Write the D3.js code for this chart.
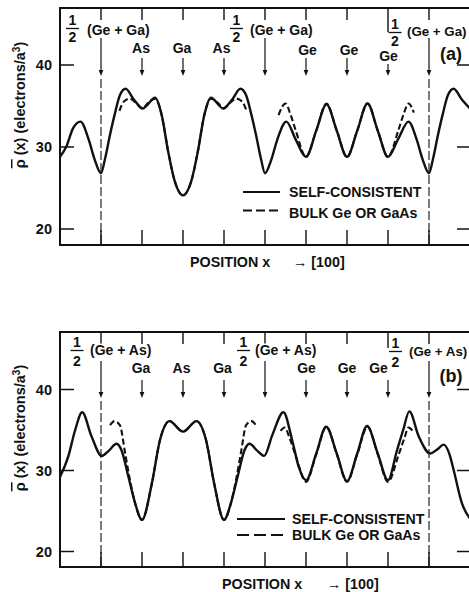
<!DOCTYPE html>
<html>
<head>
<meta charset="utf-8">
<script src="https://cdn.jsdelivr.net/npm/d3@7"></script>
<style>
  body { margin: 0; background: #fff; }
  text { font-family: "Liberation Sans", Arial, sans-serif; font-weight: bold; fill: #111; }
</style>
</head>
<body>
<div id="chart"></div>
<script>
// atomic planes along [100] (one supercell), frame runs from -1 to 9
var planes = [0, 1, 2, 3, 4, 5, 6, 7, 8];
var yTicks = [20, 30, 40];

var topSites = ["half", "As", "Ga", "As", "half", "Ge", "Ge", "Ge", "half"];
var bottomSites = ["half", "Ga", "As", "Ga", "half", "Ge", "Ge", "Ge", "half"];
var topHalfText = "(Ge + Ga)";
var bottomHalfText = "(Ge + As)";
var legendNames = ["SELF-CONSISTENT", "BULK Ge OR GaAs"];

// (a) self-consistent, [position, rho]
var topSelf = [
  [-1.0, 28.8], [-0.85, 30.0], [-0.68, 32.3], [-0.5, 33.1], [-0.3, 30.9], [-0.15, 28.4],
  [0.0, 26.8], [0.1, 28.6], [0.22, 31.5], [0.34, 34.1], [0.46, 36.3], [0.6, 37.1],
  [0.8, 35.8], [1.02, 34.7], [1.32, 36.0], [1.48, 33.9], [1.64, 29.4], [1.8, 25.8],
  [2.0, 24.1], [2.2, 25.8], [2.36, 29.4], [2.52, 33.9], [2.68, 36.0], [2.98, 34.7],
  [3.2, 35.8], [3.4, 37.1], [3.54, 36.3], [3.66, 34.1], [3.78, 31.5], [3.9, 28.6],
  [4.0, 26.8], [4.15, 28.4], [4.3, 30.9], [4.52, 33.1], [4.75, 30.9], [5.0, 28.8],
  [5.25, 32.0], [5.5, 35.2], [5.75, 32.0], [6.0, 28.8], [6.25, 32.0], [6.5, 35.3],
  [6.75, 32.0], [7.0, 28.8], [7.25, 31.0], [7.5, 33.1], [7.7, 30.9], [7.85, 28.4],
  [8.0, 26.8], [8.1, 28.6], [8.22, 31.5], [8.34, 34.1], [8.46, 36.3], [8.6, 37.1],
  [8.8, 35.8], [9.0, 34.7]
];
// (a) bulk, GaAs part and Ge part
var topBulkGaAs = [
  [0.45, 34.4], [0.55, 35.5], [0.7, 35.9], [0.85, 35.4], [1.0, 34.7], [1.15, 35.4],
  [1.32, 35.9], [1.48, 33.9], [1.64, 29.4], [1.8, 25.8], [2.0, 24.1], [2.2, 25.8],
  [2.36, 29.4], [2.52, 33.9], [2.68, 35.9], [2.85, 35.4], [3.0, 34.7], [3.15, 35.4],
  [3.3, 35.9], [3.45, 35.5], [3.55, 34.4]
];
var topBulkGe = [
  [4.33, 33.9], [4.5, 35.3], [4.62, 34.0], [4.75, 32.0], [5.0, 28.8], [5.25, 32.0],
  [5.5, 35.3], [5.75, 32.0], [6.0, 28.8], [6.25, 32.0], [6.5, 35.3], [6.75, 32.0],
  [7.0, 28.8], [7.25, 32.0], [7.38, 34.0], [7.5, 35.3], [7.63, 34.2]
];

// (b) self-consistent
var bottomSelf = [
  [-1.0, 29.2], [-0.8, 31.7], [-0.63, 35.0], [-0.46, 37.2], [-0.23, 34.2], [0.02, 31.8],
  [0.18, 32.4], [0.38, 33.3], [0.5, 32.5], [0.67, 29.2], [0.83, 26.0], [1.0, 23.9],
  [1.24, 28.4], [1.44, 33.8], [1.67, 36.1], [2.0, 34.8], [2.33, 36.1], [2.56, 33.8],
  [2.76, 28.4], [3.0, 23.9], [3.17, 26.0], [3.33, 29.2], [3.5, 32.5], [3.62, 33.3],
  [3.82, 32.4], [3.98, 31.8], [4.18, 34.4], [4.45, 37.2], [4.66, 33.8], [4.82, 30.5],
  [5.0, 28.8], [5.25, 32.1], [5.49, 35.4], [5.75, 32.1], [6.0, 28.7], [6.25, 32.1],
  [6.49, 35.5], [6.75, 32.1], [7.0, 28.8], [7.22, 32.5], [7.37, 35.0], [7.52, 37.3],
  [7.75, 34.2], [8.03, 32.1], [8.2, 32.6], [8.36, 33.2], [8.5, 32.0], [8.6, 30.1],
  [8.8, 26.0], [8.97, 24.3], [9.05, 23.9]
];
var bottomBulkGaAs = [
  [0.22, 35.6], [0.33, 36.1], [0.46, 35.6], [0.59, 32.1], [0.7, 29.0], [0.83, 26.0],
  [1.0, 23.9], [1.24, 28.4], [1.44, 33.8], [1.67, 36.1], [2.0, 34.8], [2.33, 36.1],
  [2.56, 33.8], [2.76, 28.4], [3.0, 23.9], [3.17, 26.0], [3.3, 29.0], [3.41, 32.1],
  [3.54, 35.6], [3.67, 36.1], [3.78, 35.6]
];
var bottomBulkGe = [
  [4.38, 34.9], [4.48, 35.3], [4.6, 34.0], [4.75, 31.8], [5.0, 28.6], [5.25, 32.0],
  [5.5, 35.4], [5.75, 32.0], [6.0, 28.6], [6.25, 32.0], [6.5, 35.4], [6.75, 32.0],
  [7.0, 28.6], [7.25, 31.8], [7.4, 34.0], [7.5, 35.3], [7.6, 34.9]
];

var W = 469, H = 592;

var svg = d3.select("#chart").append("svg")
    .attr("width", W)
    .attr("height", H);

var x = d3.scaleLinear().domain([-1, 9]).range([60, 470]);

var line = d3.line()
    .curve(d3.curveMonotoneX)
    .x(function(d) { return x(d[0]); });

// layout for each panel (pixels)
var panels = [
  {
    id: "a", top: 8, bottom: 245, y20: 229, y40: 65,
    sites: topSites, halfText: topHalfText,
    self: topSelf, bulk: [topBulkGaAs, topBulkGe],
    arrowTip: 76, atomArrowTop: 58, halfArrowTop: 38, longTick: 24,
    // per-site label placement: dx from plane, baseline
    atomLabel: {1: [-1, 53], 2: [-1, 53], 3: [-2.5, 53], 5: [1.5, 55], 6: [2, 55], 7: [0.5, 61]},
    // [fraction dx, text dx, vertical offset, font size]
    halfLabel: {0: [-28.5, -14, 0, 14], 4: [-28.5, -15, 0, 14], 8: [-34, -22, 4, 13.3]},
    halfY: {one: 25, bar: 28.5, two: 42, text: 35},
    letterY: 60, yTitleY: 105,
    legend: {x1: 243, x2: 280, tx: 289, y1: 192, t1: 197, y2: 210.5, t2: 218, dash: "9,4"},
    xTitle: {x: 190, arrowX: 293, y: 267}
  },
  {
    id: "b", top: 332, bottom: 567, y20: 551.5, y40: 389.5,
    sites: bottomSites, halfText: bottomHalfText,
    self: bottomSelf, bulk: [bottomBulkGaAs, bottomBulkGe],
    arrowTip: 398, atomArrowTop: 380, halfArrowTop: 361, longTick: 16,
    atomLabel: {1: [-1, 373], 2: [-1.5, 373], 3: [-1.5, 373], 5: [0.5, 373], 6: [0, 373], 7: [-9.5, 373]},
    halfLabel: {0: [-24, -11, 0, 14], 4: [-21.5, -10, 0, 14], 8: [-33.5, -20, 1, 13.3]},
    halfY: {one: 347, bar: 350.5, two: 366, text: 355},
    letterY: 382, yTitleY: 428,
    legend: {x1: 237, x2: 285, tx: 292, y1: 519, t1: 523.5, y2: 535, t2: 540, dash: "12,5"},
    xTitle: {x: 222, arrowX: 327, y: 589}
  }
];

panels.forEach(drawPanel);

function drawPanel(p) {
  var g = svg.append("g").attr("class", "panel-" + p.id);
  var y = d3.scaleLinear().domain([20, 40]).range([p.y20, p.y40]);
  var lineY = line.y(function(d) { return y(d[1]); });

  g.append("clipPath").attr("id", "clip-" + p.id)
    .append("rect")
    .attr("x", 60).attr("y", p.top)
    .attr("width", 411).attr("height", p.bottom - p.top);

  // frame
  g.append("rect")
    .attr("x", 60).attr("y", p.top)
    .attr("width", 411).attr("height", p.bottom - p.top)
    .attr("fill", "none").attr("stroke", "#111").attr("stroke-width", 2);

  // y ticks, both sides
  g.selectAll(".ytick-l").data(yTicks).enter().append("line")
    .attr("x1", 60).attr("x2", 74)
    .attr("y1", function(d) { return y(d); }).attr("y2", function(d) { return y(d); })
    .attr("stroke", "#111").attr("stroke-width", 1.5);
  g.selectAll(".ytick-r").data(yTicks).enter().append("line")
    .attr("x1", 457).attr("x2", 471)
    .attr("y1", function(d) { return y(d); }).attr("y2", function(d) { return y(d); })
    .attr("stroke", "#111").attr("stroke-width", 1.5);
  g.selectAll(".ylab").data(yTicks).enter().append("text")
    .attr("x", 52).attr("y", function(d) { return y(d); })
    .attr("dy", "0.36em").attr("text-anchor", "end")
    .style("font-size", "14.5px")
    .text(function(d) { return d; });

  // plane ticks on top and bottom edges
  g.selectAll(".ttick").data(planes).enter().append("line")
    .attr("x1", function(d) { return x(d); }).attr("x2", function(d) { return x(d); })
    .attr("y1", p.top).attr("y2", function(d) { return p.top + (d === 7 ? p.longTick : 12); })
    .attr("stroke", "#111").attr("stroke-width", 1.4);
  g.selectAll(".btick").data(planes).enter().append("line")
    .attr("x1", function(d) { return x(d); }).attr("x2", function(d) { return x(d); })
    .attr("y1", p.bottom - 15).attr("y2", p.bottom)
    .attr("stroke", "#111").attr("stroke-width", 1.4);

  // interface planes
  g.selectAll(".iface").data([0, 8]).enter().append("line")
    .attr("x1", function(d) { return x(d); }).attr("x2", function(d) { return x(d); })
    .attr("y1", p.arrowTip + 3).attr("y2", p.bottom)
    .attr("stroke", "#111").attr("stroke-width", 1.1)
    .attr("stroke-dasharray", "9,3");

  // arrows to each plane
  planes.forEach(function(i) {
    var half = p.sites[i] === "half";
    var y0 = half ? p.halfArrowTop : p.atomArrowTop + (i === 7 && p.id === "a" ? 6 : 0);
    g.append("line")
      .attr("x1", x(i)).attr("x2", x(i))
      .attr("y1", y0).attr("y2", p.arrowTip - 4)
      .attr("stroke", "#111").attr("stroke-width", 1.2);
    g.append("path")
      .attr("d", "M" + (x(i) - 2.3) + "," + (p.arrowTip - 6) + "L" + (x(i) + 2.3) + "," + (p.arrowTip - 6) +
                 "L" + x(i) + "," + p.arrowTip + "Z")
      .attr("fill", "#111");
  });

  // site labels
  planes.forEach(function(i) {
    if (p.sites[i] === "half") {
      var hl = p.halfLabel[i], cx = x(i) + hl[0], off = hl[2];
      g.append("text").attr("x", cx).attr("y", p.halfY.one + off)
        .attr("text-anchor", "middle").style("font-size", "14px").text("1");
      g.append("line").attr("x1", cx - 6.5).attr("x2", cx + 6.5)
        .attr("y1", p.halfY.bar + off).attr("y2", p.halfY.bar + off)
        .attr("stroke", "#111").attr("stroke-width", 1.3);
      g.append("text").attr("x", cx).attr("y", p.halfY.two + off)
        .attr("text-anchor", "middle").style("font-size", "14px").text("2");
      g.append("text").attr("x", x(i) + hl[1]).attr("y", p.halfY.text + (off ? 1 : 0))
        .style("font-size", hl[3] + "px")
        .style("stroke", "#fff").style("stroke-width", 3).style("paint-order", "stroke")
        .text(p.halfText);
    } else {
      var al = p.atomLabel[i];
      g.append("text").attr("x", x(i) + al[0]).attr("y", al[1])
        .attr("text-anchor", "middle").style("font-size", "14px")
        .text(p.sites[i]);
    }
  });

  // panel letter
  g.append("text").attr("x", 451).attr("y", p.letterY)
    .attr("text-anchor", "middle").style("font-size", "18px")
    .text("(" + p.id + ")");

  // curves
  var curves = g.append("g").attr("clip-path", "url(#clip-" + p.id + ")");
  curves.append("path")
    .datum(p.self)
    .attr("d", lineY)
    .attr("fill", "none").attr("stroke", "#111").attr("stroke-width", 2.4);
  curves.selectAll(".bulk").data(p.bulk).enter().append("path")
    .attr("d", lineY)
    .attr("fill", "none").attr("stroke", "#111").attr("stroke-width", 2.1)
    .attr("stroke-dasharray", "6,3");

  // legend
  var L = p.legend;
  g.append("line").attr("x1", L.x1).attr("x2", L.x2).attr("y1", L.y1).attr("y2", L.y1)
    .attr("stroke", "#111").attr("stroke-width", 2);
  g.append("line").attr("x1", L.x1).attr("x2", L.x2).attr("y1", L.y2).attr("y2", L.y2)
    .attr("stroke", "#111").attr("stroke-width", 2).attr("stroke-dasharray", L.dash);
  g.append("text").attr("x", L.tx).attr("y", L.t1).style("font-size", "14.2px").text(legendNames[0]);
  g.append("text").attr("x", L.tx).attr("y", L.t2).style("font-size", "14.2px").text(legendNames[1]);

  // x title
  g.append("text").attr("x", p.xTitle.x).attr("y", p.xTitle.y)
    .style("font-size", "14.3px").text("POSITION x");
  g.append("text").attr("x", p.xTitle.arrowX).attr("y", p.xTitle.y)
    .style("font-size", "14.3px").text("\u2192 [100]");

  // y title
  var yt = g.append("text")
    .attr("transform", "translate(25," + p.yTitleY + ") rotate(-90)")
    .attr("text-anchor", "middle")
    .style("font-size", "14.5px");
  yt.append("tspan").style("text-decoration", "overline").text("\u03C1");
  yt.append("tspan").text(" (x)  (electrons/a");
  yt.append("tspan").attr("dy", -5).style("font-size", "10px").text("3");
  yt.append("tspan").attr("dy", 5).text(")");
}
</script>
</body>
</html>
